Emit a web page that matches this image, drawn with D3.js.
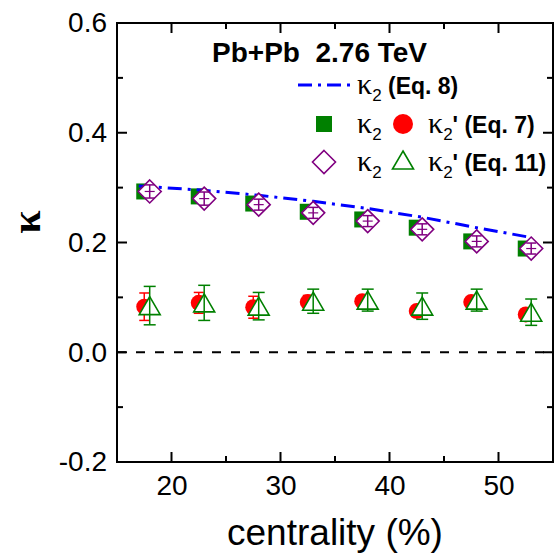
<!DOCTYPE html>
<html><head><meta charset="utf-8">
<script src="https://cdn.jsdelivr.net/npm/d3@7"></script>
<style>body{margin:0;background:#fff}</style>
</head><body>
<script>
// ---- data ----
const xTicks = [20, 30, 40, 50];
const yTicks = [-0.2, 0.0, 0.2, 0.4, 0.6];
const xSq = [17.5, 22.5, 27.5, 32.5, 37.5, 42.5, 47.5, 52.5];
const kappa2Sq = [0.293, 0.284, 0.271, 0.256, 0.242, 0.227, 0.202, 0.189];
const xDia = [18, 23, 28, 33, 38, 43, 48, 53];
const kappa2Dia = [0.293, 0.280, 0.269, 0.254, 0.239, 0.224, 0.202, 0.189];
const kappa2DiaErr = [0.012, 0.012, 0.010, 0.010, 0.010, 0.010, 0.010, 0.010];
const xLine = [17, 23, 28, 33, 38, 43, 48, 53];
const kappa2Eq8 = [0.303, 0.295, 0.286, 0.275, 0.262, 0.246, 0.227, 0.209];
const xCirc = [17.5, 22.5, 27.5, 32.5, 37.5, 42.5, 47.5, 52.5];
const kappa2pEq7 = [0.083, 0.090, 0.082, 0.0915, 0.093, 0.075, 0.0915, 0.069];
const kappa2pEq7Err = [0.025, 0.019, 0.020, 0.012, 0.010, 0.010, 0.010, 0.010];
const xTri = [18, 23, 28, 33, 38, 43, 48, 53];
const kappa2pEq11 = [0.085, 0.090, 0.084, 0.093, 0.095, 0.084, 0.095, 0.073];
const kappa2pEq11Err = [0.035, 0.032, 0.025, 0.022, 0.020, 0.024, 0.020, 0.024];

const W = 556, H = 558;
const m = {left: 117, right: 553, top: 23, bottom: 462};
const svg = d3.select("body").append("svg").attr("width", W).attr("height", H);
const x = d3.scaleLinear().domain([15, 55]).range([m.left, m.right]);
const y = d3.scaleLinear().domain([-0.2, 0.6]).range([m.bottom, m.top]);
const sans = "Liberation Sans, Arial, sans-serif";
const serif = "Liberation Serif, Times New Roman, serif";

// zero line
svg.append("line").attr("x1", x(15)).attr("x2", x(55)).attr("y1", y(0)).attr("y2", y(0))
  .attr("stroke", "#000").attr("stroke-width", 2).attr("stroke-dasharray", "9,10");

// ticks inside, mirrored
const xMinor = d3.range(15, 56, 5);
const yMinor = d3.range(-0.2, 0.61, 0.1).map(v => +v.toFixed(2));
const tg = svg.append("g").attr("stroke", "#000").attr("stroke-width", 2);
xMinor.forEach(v => {
  const len = (v % 10 === 0) ? 10 : 6;
  tg.append("line").attr("x1", x(v)).attr("x2", x(v)).attr("y1", m.bottom).attr("y2", m.bottom - len);
  tg.append("line").attr("x1", x(v)).attr("x2", x(v)).attr("y1", m.top).attr("y2", m.top + len);
});
yMinor.forEach(v => {
  const major = Math.abs(Math.round(v * 10) % 2) === 0;
  const len = major ? 10 : 6;
  tg.append("line").attr("x1", m.left).attr("x2", m.left + len).attr("y1", y(v)).attr("y2", y(v));
  tg.append("line").attr("x1", m.right).attr("x2", m.right - len).attr("y1", y(v)).attr("y2", y(v));
});

// tick labels via d3 axes
const xAxis = svg.append("g").attr("transform", `translate(0,${m.bottom})`)
  .call(d3.axisBottom(x).tickValues(xTicks).tickSize(0).tickPadding(13).tickFormat(d3.format("d")));
xAxis.select(".domain").remove();
xAxis.selectAll("text").attr("font-family", sans).attr("font-size", 28).attr("fill", "#000");
const fmtY = d => d3.format(".1f")(d).replace("−", "-");
const yAxis = svg.append("g").attr("transform", `translate(${m.left},0)`)
  .call(d3.axisLeft(y).tickValues(yTicks).tickSize(0).tickPadding(10).tickFormat(fmtY));
yAxis.select(".domain").remove();
yAxis.selectAll("text").attr("font-family", sans).attr("font-size", 28).attr("fill", "#000");

svg.append("text").attr("x", (m.left + m.right) / 2).attr("y", 545).attr("text-anchor", "middle")
  .attr("font-family", sans).attr("font-size", 37).text("centrality (%)");
svg.append("text").attr("transform", "translate(40,222) rotate(-90)").attr("text-anchor", "middle")
  .attr("font-family", serif).attr("font-weight", "bold").attr("font-size", 42).text("κ");

// frame
svg.append("rect").attr("x", m.left).attr("y", m.top).attr("width", m.right - m.left).attr("height", m.bottom - m.top)
  .attr("fill", "none").attr("stroke", "#000").attr("stroke-width", 2);

const green = "#008000", red = "#ff0000", purple = "#800080", blue = "#0000ff";

function errBars(xs, ys, es, color, cap) {
  const g = svg.append("g").attr("stroke", color).attr("stroke-width", 1.5);
  xs.forEach((xv, i) => {
    const cx = x(xv), y1 = y(ys[i] + es[i]), y2 = y(ys[i] - es[i]);
    g.append("line").attr("x1", cx).attr("x2", cx).attr("y1", y1).attr("y2", y2);
    g.append("line").attr("x1", cx - cap).attr("x2", cx + cap).attr("y1", y1).attr("y2", y1);
    g.append("line").attr("x1", cx - cap).attr("x2", cx + cap).attr("y1", y2).attr("y2", y2);
  });
}

// squares
svg.append("g").selectAll("rect").data(xSq).join("rect")
  .attr("x", d => x(d) - 8).attr("y", (d, i) => y(kappa2Sq[i]) - 8)
  .attr("width", 16).attr("height", 16).attr("fill", green);
// red circles
errBars(xCirc, kappa2pEq7, kappa2pEq7Err, red, 5);
svg.append("g").selectAll("circle").data(xCirc).join("circle")
  .attr("cx", d => x(d)).attr("cy", (d, i) => y(kappa2pEq7[i])).attr("r", 8).attr("fill", red);

// dash-dot line
const dashDot = "14,6,3,6";
svg.append("path").datum(xLine.map((d, i) => [d, kappa2Eq8[i]]))
  .attr("d", d3.line().x(d => x(d[0])).y(d => y(d[1])))
  .attr("fill", "none").attr("stroke", blue).attr("stroke-width", 3).attr("stroke-dasharray", dashDot);

// diamonds
const dia = 11.5;
svg.append("g").selectAll("path").data(xDia).join("path")
  .attr("d", (d, i) => { const cx = x(d), cy = y(kappa2Dia[i]);
    return `M${cx},${cy - dia}L${cx + dia},${cy}L${cx},${cy + dia}L${cx - dia},${cy}Z`; })
  .attr("fill", "#fff").attr("stroke", purple).attr("stroke-width", 1.6);
errBars(xDia, kappa2Dia, kappa2DiaErr, purple, 5);
svg.append("g").selectAll("line").data(xDia).join("line")
  .attr("x1", d => x(d) - 5).attr("x2", d => x(d) + 5)
  .attr("y1", (d, i) => y(kappa2Dia[i])).attr("y2", (d, i) => y(kappa2Dia[i]))
  .attr("stroke", purple).attr("stroke-width", 1.2);

// triangles
const tw = 10.5, th = 9;
svg.append("g").selectAll("path").data(xTri).join("path")
  .attr("d", (d, i) => { const cx = x(d), cy = y(kappa2pEq11[i]);
    return `M${cx},${cy - th}L${cx + tw},${cy + th}L${cx - tw},${cy + th}Z`; })
  .attr("fill", "#fff").attr("stroke", green).attr("stroke-width", 1.6);
errBars(xTri, kappa2pEq11, kappa2pEq11Err, green, 6);

// ---- legend ----
svg.append("text").attr("x", 212).attr("y", 62).attr("font-family", sans).attr("font-weight", "bold")
  .attr("font-size", 28).attr("xml:space", "preserve").text("Pb+Pb  2.76 TeV");

function kappaLabel(xp, yp, rest) {
  const t = svg.append("text").attr("x", xp).attr("y", yp).attr("xml:space", "preserve");
  t.append("tspan").attr("font-family", serif).attr("font-size", 30).text("κ");
  t.append("tspan").attr("font-family", sans).attr("font-size", 17).attr("dy", 7).text("2");
  if (rest) t.append("tspan").attr("font-family", sans).attr("font-weight", "bold").attr("font-size", 23).attr("dy", -7).text(rest);
}
svg.append("line").attr("x1", 298).attr("x2", 352).attr("y1", 85).attr("y2", 85)
  .attr("stroke", blue).attr("stroke-width", 3).attr("stroke-dasharray", dashDot);
kappaLabel(357, 94, " (Eq. 8)");

svg.append("rect").attr("x", 316).attr("y", 116).attr("width", 16).attr("height", 16).attr("fill", green);
kappaLabel(357, 133, null);
svg.append("circle").attr("cx", 403).attr("cy", 124).attr("r", 10).attr("fill", red);
kappaLabel(428, 133, "' (Eq. 7)");

svg.append("path").attr("d", `M324,${162 - dia}L${324 + dia},162L324,${162 + dia}L${324 - dia},162Z`)
  .attr("fill", "#fff").attr("stroke", purple).attr("stroke-width", 1.6);
kappaLabel(357, 171, null);
svg.append("path").attr("d", `M403,${160 - th}L${403 + tw},${160 + th}L${403 - tw},${160 + th}Z`)
  .attr("fill", "#fff").attr("stroke", green).attr("stroke-width", 1.6);
kappaLabel(428, 171, "' (Eq. 11)");
</script>
</body></html>
